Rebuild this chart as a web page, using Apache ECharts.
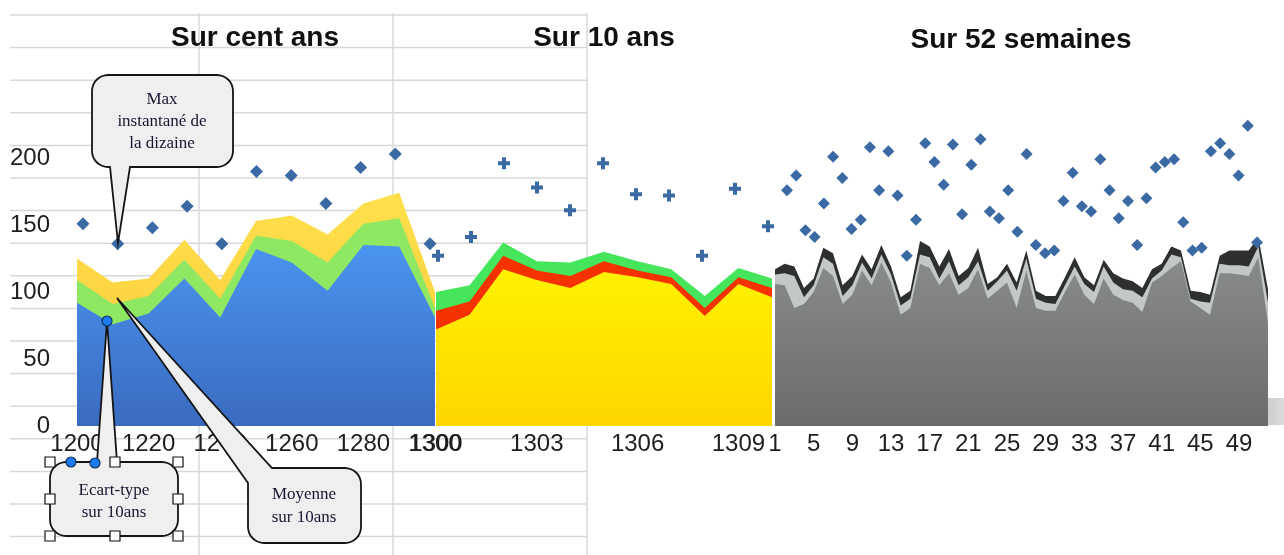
<!DOCTYPE html>
<html>
<head>
<meta charset="utf-8">
<script src="https://cdn.jsdelivr.net/npm/echarts@6/dist/echarts.min.js"></script>
<style>
  html, body { margin: 0; padding: 0; background: #ffffff; }
  #chart { width: 1284px; height: 555px; }
</style>
</head>
<body>
<div id="chart"></div>
<script>
// ---- Sur cent ans : années par dizaine ----
const centAnnees = ['1200','1210','1220','1230','1240','1250','1260','1270','1280','1290','1300'];
const centHaute   = [125, 107, 110, 139, 109, 153, 157, 143, 166, 174, 100];
const centMoyenne = [109,  91,  97, 124,  95, 142, 138, 122, 151, 155,  88];
const centBasse   = [ 92,  76,  84, 110,  81, 132, 122, 101, 135, 134,  81];
const centMax     = [151, 136, 148, 164, 136, 190, 187, 166, 193, 203, 136];

// ---- Sur 10 ans ----
const dixAnnees = ['1300','1301','1302','1303','1304','1305','1306','1307','1308','1309','1310'];
const dixHaute   = [100, 105, 137, 123, 122, 130, 123, 117,  97, 118, 110];
const dixMoyenne = [ 86,  93, 127, 116, 112, 123, 116, 111,  88, 111, 103];
const dixBasse   = [ 72,  83, 117, 109, 103, 115, 111, 106,  82, 106,  96];
const dixMax     = [127, 141, 196, 178, 161, 196, 173, 172, 127, 177, 149];

// ---- Sur 52 semaines ----
const semaines = Array.from({ length: 52 }, (_, i) => String(i + 1));
const semHaute = [117,121,119,103,110,133,129,105,112,128,117,135,119,96,101,138,134,119,132,112,
                  118,133,106,111,121,107,131,101,97,97,111,126,111,105,124,114,110,108,103,117,
                  121,134,131,101,100,98,127,131,131,131,141,102];
const semMoyenne = [113,114,112,96,105,126,121,97,105,122,110,128,113,90,95,128,126,110,123,105,
                    111,123,101,108,116,101,125,95,92,91,105,119,106,100,119,107,102,101,96,110,
                    116,128,126,95,93,92,121,120,120,119,134,92];
const semBasse = [106,105,88,91,100,118,112,91,98,116,105,122,107,83,88,121,118,105,114,98,
                  103,117,95,101,107,88,116,88,86,86,100,113,98,91,110,98,94,92,85,107,
                  112,118,123,93,88,83,114,114,113,112,126,77];
const semMax = [176,187,146,141,166,201,185,147,154,208,176,205,172,127,154,211,197,180,210,158,
                195,214,160,155,176,145,203,135,129,131,168,189,164,160,199,176,155,168,135,170,
                193,197,199,152,131,133,205,211,203,187,224,137];

const yTicks = { min: 0, max: 250, step: 50 };

const SANS = '"Liberation Sans", Arial, Helvetica, sans-serif';
const SERIF = '"Liberation Serif", "Times New Roman", serif';
const SCATTER_BLUE = '#3a69a4';

const chart = echarts.init(document.getElementById('chart'));

// Plot areas: three area panels and three scatter layers sharing one vertical scale.
const TOP = 91, BOTTOM = 129;
const grids = [
  { left: 77,  width: 358 },  // cent ans (aires)
  { left: 436, width: 336 },  // 10 ans (aires)
  { left: 775, width: 493 },  // 52 semaines (aires)
  { left: 83,  width: 347 },  // cent ans (max)
  { left: 438, width: 330 },  // 10 ans (max)
  { left: 787, width: 470 }   // 52 semaines (max)
].map(g => Object.assign({ top: TOP, bottom: BOTTOM, containLabel: false, outerBoundsMode: 'none' }, g));

const cats = [centAnnees, dixAnnees, semaines, centAnnees, dixAnnees, semaines];
const labelIntervals = [1, 2, 3];

const xAxes = cats.map((data, i) => ({
  type: 'category',
  gridIndex: i,
  data: data,
  boundaryGap: false,
  axisLine: { show: false },
  axisTick: { show: false },
  splitLine: { show: false },
  axisLabel: i < 3 ? {
    show: true,
    interval: labelIntervals[i],
    margin: 6,
    color: '#1e1e1e',
    fontFamily: SANS,
    fontSize: 24
  } : { show: false }
}));

const yAxes = cats.map((_, i) => ({
  type: 'value',
  gridIndex: i,
  min: yTicks.min,
  max: yTicks.max,
  interval: yTicks.step,
  axisLine: { show: false },
  axisTick: { show: false },
  splitLine: { show: false },
  axisLabel: i === 0 ? {
    show: true,
    showMaxLabel: false,
    margin: 27,
    color: '#1e1e1e',
    fontFamily: SANS,
    fontSize: 24
  } : { show: false }
}));

function vgrad(top, bottom) {
  return new echarts.graphic.LinearGradient(0, 0, 0, 1, [
    { offset: 0, color: top }, { offset: 1, color: bottom }
  ]);
}

function aire(name, idx, data, color, z) {
  return {
    name: name,
    type: 'line',
    xAxisIndex: idx,
    yAxisIndex: idx,
    data: data,
    showSymbol: false,
    symbol: 'none',
    lineStyle: { width: 0 },
    areaStyle: { color: color, opacity: 1 },
    silent: true,
    animation: false,
    z: z
  };
}

function nuage(name, idx, data, symbol, size) {
  return {
    name: name,
    type: 'scatter',
    xAxisIndex: idx,
    yAxisIndex: idx,
    data: data,
    symbol: symbol,
    symbolSize: size,
    itemStyle: { color: SCATTER_BLUE, opacity: 1 },
    animation: false,
    z: 5
  };
}

const PLUS = 'path://M4,0 L8,0 L8,4 L12,4 L12,8 L8,8 L8,12 L4,12 L4,8 L0,8 L0,4 L4,4 Z';

const series = [
  aire('Cent ans haute',   0, centHaute,   vgrad('#ffe04c', '#fbc83a'), 2),
  aire('Cent ans moyenne', 0, centMoyenne, '#8fe862', 2),
  aire('Cent ans basse',   0, centBasse,   vgrad('#4a94f0', '#3a6bc0'), 2),

  aire('10 ans haute',   1, dixHaute,   '#45e65c', 3),
  aire('10 ans moyenne', 1, dixMoyenne, '#f63300', 3),
  aire('10 ans basse',   1, dixBasse,   vgrad('#fff200', '#ffd500'), 3),

  aire('52 semaines haute',   2, semHaute,   '#2e3030', 2),
  aire('52 semaines moyenne', 2, semMoyenne, '#c3c7c7', 2),
  aire('52 semaines basse',   2, semBasse,   vgrad('#8a8b8b', '#6a6b6b'), 2),

  nuage('Max cent ans', 3, centMax, 'diamond', 13),
  nuage('Max 10 ans', 4, dixMax, PLUS, 12),
  nuage('Max 52 semaines', 5, semMax, 'diamond', 12)
];

// ---- Décor : quadrillage de feuille, sol, bulles d'annotation ----
const deco = [];

// spreadsheet grid behind the charts
for (let k = 0; k <= 16; k++) {
  const y = 15 + k * 32.6;
  deco.push({ type: 'line', z: -10, silent: true,
    shape: { x1: 10, y1: y, x2: 587, y2: y },
    style: { stroke: '#d8d8d8', lineWidth: 1.5 } });
}
[199, 393, 587].forEach(x => deco.push({ type: 'line', z: -10, silent: true,
  shape: { x1: x, y1: 13, x2: x, y2: 555 },
  style: { stroke: '#d8d8d8', lineWidth: 1.5 } }));

// floor under the weekly panel
deco.push({ type: 'rect', z: -5, silent: true,
  shape: { x: 775, y: 398, width: 509, height: 27 },
  style: { fill: new echarts.graphic.LinearGradient(0, 0, 1, 0, [
    { offset: 0, color: '#c9c9c9' }, { offset: 0.95, color: '#c4c4c4' }, { offset: 1, color: '#dcdcdc' }]) } });

// panel titles
[['Sur cent ans', 255, 38], ['Sur 10 ans', 604, 38], ['Sur 52 semaines', 1021, 40]].forEach(t =>
  deco.push({ type: 'text', z: 20, silent: true,
    style: { text: t[0], x: t[1], y: t[2], textAlign: 'center', textVerticalAlign: 'middle',
             font: 'bold 28px ' + SANS, fill: '#111' } }));

function arc(cx, cy, r, a0, a1) {
  const pts = [];
  for (let i = 0; i <= 8; i++) {
    const a = (a0 + (a1 - a0) * i / 8) * Math.PI / 180;
    pts.push([cx + r * Math.cos(a), cy + r * Math.sin(a)]);
  }
  return pts;
}

// rounded box with a pointer inserted on the top edge, bottom edge or top-left corner
function bulle(x, y, w, h, r, bord, pointe) {
  const pts = [];
  if (bord === 'coin') pts.push(...pointe); else pts.push(...arc(x + r, y + r, r, 180, 270));
  if (bord === 'top') pts.push(...pointe);
  pts.push(...arc(x + w - r, y + r, r, 270, 360));
  pts.push(...arc(x + w - r, y + h - r, r, 0, 90));
  if (bord === 'bottom') pts.push(...pointe);
  pts.push(...arc(x + r, y + h - r, r, 90, 180));
  return pts;
}

function bulleEl(points) {
  return { type: 'polygon', z: 30, silent: true, shape: { points: points },
    style: { fill: '#efefef', stroke: '#151515', lineWidth: 1.8 } };
}

function texte(lines, cx, y0, dy) {
  return lines.map((s, i) => ({ type: 'text', z: 31, silent: true,
    style: { text: s, x: cx, y: y0 + i * dy, textAlign: 'center', textVerticalAlign: 'middle',
             font: '17px ' + SERIF, fill: '#161630' } }));
}

deco.push(bulleEl(bulle(92, 75, 141, 92, 16, 'bottom', [[130, 167], [118, 243], [110, 167]])));
deco.push(...texte(['Max', 'instantané de', 'la dizaine'], 162, 100, 22));

deco.push(bulleEl(bulle(248, 468, 113, 75, 16, 'coin', [[248, 483], [117, 298], [272, 468]])));
deco.push(...texte(['Moyenne', 'sur 10ans'], 304, 495, 23));

deco.push(bulleEl(bulle(50, 462, 128, 74, 16, 'top', [[97, 462], [107, 321], [117, 462]])));
deco.push(...texte(['Ecart-type', 'sur 10ans'], 114, 491, 22));

// selection handles of the last box
[[50, 462], [115, 462], [178, 462], [50, 499], [178, 499], [50, 536], [115, 536], [178, 536]].forEach(p =>
  deco.push({ type: 'rect', z: 40, silent: true,
    shape: { x: p[0] - 5, y: p[1] - 5, width: 10, height: 10 },
    style: { fill: '#ffffff', stroke: '#111', lineWidth: 1.2 } }));
[[71, 462], [95, 463], [107, 321]].forEach(p =>
  deco.push({ type: 'circle', z: 41, silent: true,
    shape: { cx: p[0], cy: p[1], r: 5 },
    style: { fill: '#1a7cf0', stroke: '#10305a', lineWidth: 1.2 } }));

chart.setOption({
  animation: false,
  backgroundColor: '#ffffff',
  grid: grids,
  xAxis: xAxes,
  yAxis: yAxes,
  series: series,
  graphic: { elements: deco }
});
</script>
</body>
</html>
